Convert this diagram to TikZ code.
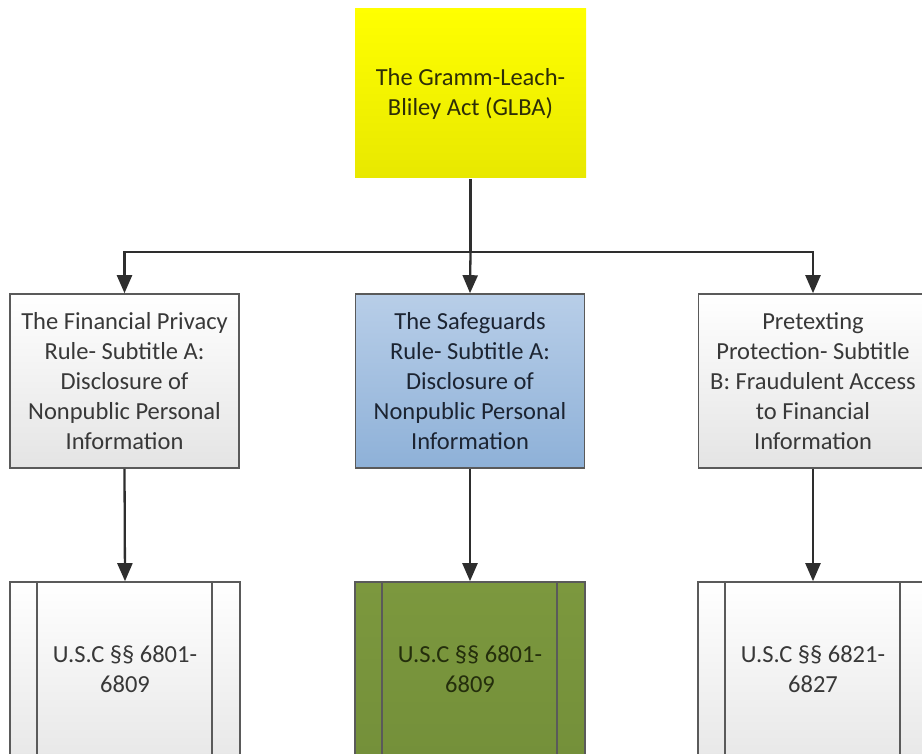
\documentclass[tikz,border=0pt]{standalone}
\usepackage{fontspec}
\setmainfont{Carlito}
\usetikzlibrary{arrows.meta}
\definecolor{edge}{HTML}{5A5A5A}
\definecolor{wire}{HTML}{2E2E2E}
\definecolor{txt}{HTML}{383838}
\tikzset{
  box/.style={draw=edge, line width=1.6pt, rectangle, align=center,
    inner sep=0pt, font=\fontsize{24.5}{30}\selectfont, text=txt},
  actbox/.style={box, minimum width=231pt, minimum height=169pt,
    top color=yellow, bottom color={rgb,255:red,232;green,232;blue,0}, draw=none, text={rgb,255:red,45;green,45;blue,8}},
  rulebox/.style={box, minimum width=229pt, minimum height=174pt,
    top color=white, bottom color={rgb,255:red,228;green,228;blue,228}},
  bluebox/.style={rulebox, top color={rgb,255:red,184;green,206;blue,232},
    bottom color={rgb,255:red,142;green,177;blue,216}, text={rgb,255:red,28;green,36;blue,50}},
  codebox/.style={box, minimum width=230pt, minimum height=174pt,
    top color=white, bottom color={rgb,255:red,232;green,232;blue,232}},
  greenbox/.style={codebox, top color={rgb,255:red,124;green,152;blue,62},
    bottom color={rgb,255:red,116;green,144;blue,58}, text={rgb,255:red,36;green,46;blue,12}},
  link/.style={draw=wire, line width=2.3pt, -{Triangle[width=15pt,length=18pt]}},
  trunk/.style={draw=wire, line width=2.3pt},
  bar/.style={draw=edge, line width=1.6pt}
}
\begin{document}
\begin{tikzpicture}[x=1pt,y=-1pt]
  \useasboundingbox (0,0) rectangle (922,754);
  \clip (0,0) rectangle (922,754);

  % top: the act itself
  \node[actbox] (act) at (470.5,93.5) {The Gramm-Leach-\\Bliley Act (GLBA)};

  % second row: the three rules
  \node[rulebox] (privacy) at (124.5,381) {The Financial Privacy\\Rule- Subtitle A:\\Disclosure of\\Nonpublic Personal\\Information};
  \node[bluebox] (safe) at (470,381) {The Safeguards\\Rule- Subtitle A:\\Disclosure of\\Nonpublic Personal\\Information};
  \node[rulebox] (pretext) at (813,381) {Pretexting\\Protection- Subtitle\\B: Fraudulent Access\\to Financial\\Information};

  % third row: the code sections
  \node[codebox] (usc1) at (125,669) {U.S.C §§ 6801-\\6809};
  \node[greenbox] (usc2) at (470,669) {U.S.C §§ 6801-\\6809};
  \node[codebox] (usc3) at (813,669) {U.S.C §§ 6821-\\6827};

  % inner bars of the code boxes
  \foreach \n in {usc1,usc2,usc3}{
    \draw[bar] ([xshift=28pt]\n.north west) -- ([xshift=28pt]\n.south west);
    \draw[bar] ([xshift=-29pt]\n.north east) -- ([xshift=-29pt]\n.south east);
  }

  % connectors
  \coordinate (split) at (act.south |- 0,252);
  \draw[trunk] (act.south) -- (split);
  \draw[link] (split) -| (privacy.north);
  \draw[link] (split) -- (safe.north);
  \draw[link] (split) -| (pretext.north);
  \draw[link] (privacy.south) -- (usc1.north);
  \draw[link] (safe.south) -- (usc2.north);
  \draw[link] (pretext.south) -- (usc3.north);
\end{tikzpicture}
\end{document}
